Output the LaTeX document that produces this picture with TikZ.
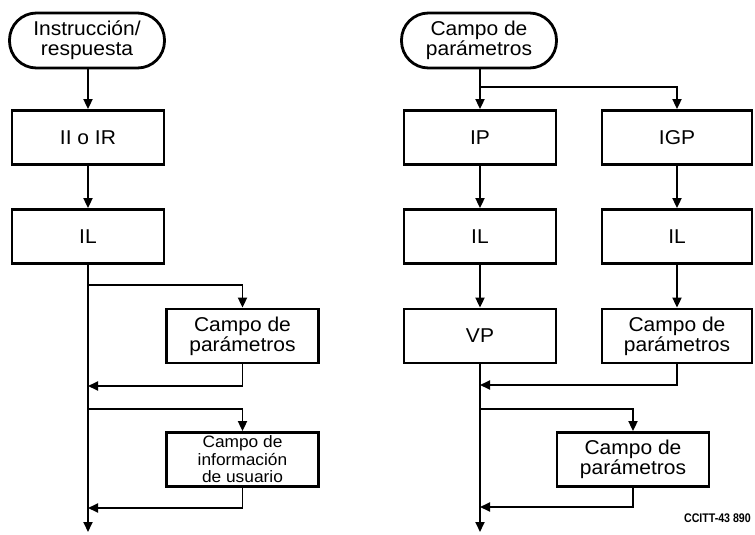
\documentclass[tikz,border=0pt]{standalone}
\usepackage{fontspec}
\setmainfont{Liberation Sans}[FakeStretch=1.05]
\newfontfamily\labfont{Liberation Sans}[FakeStretch=0.85]
\usetikzlibrary{arrows.meta}
\begin{document}
\begin{tikzpicture}[x=1pt,y=-1pt,
  txt/.style={font=\fontsize{20}{20}\selectfont},
  box/.style={draw,line width=2.8pt,minimum width=152pt,minimum height=54pt,inner sep=0pt,align=center,txt},
  term/.style={draw,line width=2.8pt,rounded corners=27pt,minimum width=155pt,minimum height=55pt,inner sep=0pt,align=center,txt},
  arr/.style={line width=1.8pt,-{Triangle[length=10pt,width=9pt]}}]
\useasboundingbox (0,0) rectangle (755,535);
% left column
\node[term] (t1) at (87,40.5) {Instrucción/\\respuesta};
\node[box] (a1) at (88,137.5) {II o IR};
\node[box] (a2) at (88,236.5) {IL};
\node[box] (a3) at (242.5,336) {Campo de\\parámetros};
\node[box,font=\fontsize{16.5}{17.5}\selectfont] (a4) at (242.5,459.5) {Campo de\\información\\de usuario};
\coordinate (aend) at (88,532);
\coordinate (ab1) at (88,285);
\coordinate (ar1) at (88,386);
\coordinate (ab2) at (88,409);
\coordinate (ar2) at (88,508);
\draw[arr] (t1.south -| a1.north) -- (a1.north);
\draw[arr] (a1) -- (a2);
\draw[arr] (a2) -- (aend);
\draw[arr] (ab1) -| (a3.north);
\draw[arr] (a3.south) |- (ar1);
\draw[arr] (ab2) -| (a4.north);
\draw[arr] (a4.south) |- (ar2);
% right column
\node[term] (t2) at (479,40.5) {Campo de\\parámetros};
\node[box] (b1) at (480,137.5) {IP};
\node[box,minimum width=150pt] (c1) at (677,137.5) {IGP};
\node[box] (b2) at (480,236.5) {IL};
\node[box,minimum width=150pt] (c2) at (677,236.5) {IL};
\node[box] (b3) at (480,336) {VP};
\node[box,minimum width=150pt] (c3) at (677,336) {Campo de\\parámetros};
\node[box] (b4) at (633,459.5) {Campo de\\parámetros};
\coordinate (bsplit) at (480,87);
\coordinate (bend) at (480,532);
\coordinate (br1) at (480,385);
\coordinate (bb2) at (480,409);
\coordinate (br2) at (480,507);
\draw[arr] (t2.south -| b1.north) -- (b1.north);
\draw[arr] (bsplit) -| (c1.north);
\draw[arr] (b1) -- (b2);
\draw[arr] (b2) -- (b3);
\draw[arr] (b3) -- (bend);
\draw[arr] (c1) -- (c2);
\draw[arr] (c2) -- (c3);
\draw[arr] (c3.south) |- (br1);
\draw[arr] (bb2) -| (b4.north);
\draw[arr] (b4.south) |- (br2);
\node[font=\labfont\bfseries\fontsize{12.5}{13}\selectfont,anchor=east,inner sep=0pt] (lab) at (751,518) {CCITT-43 890};
\end{tikzpicture}
\end{document}
